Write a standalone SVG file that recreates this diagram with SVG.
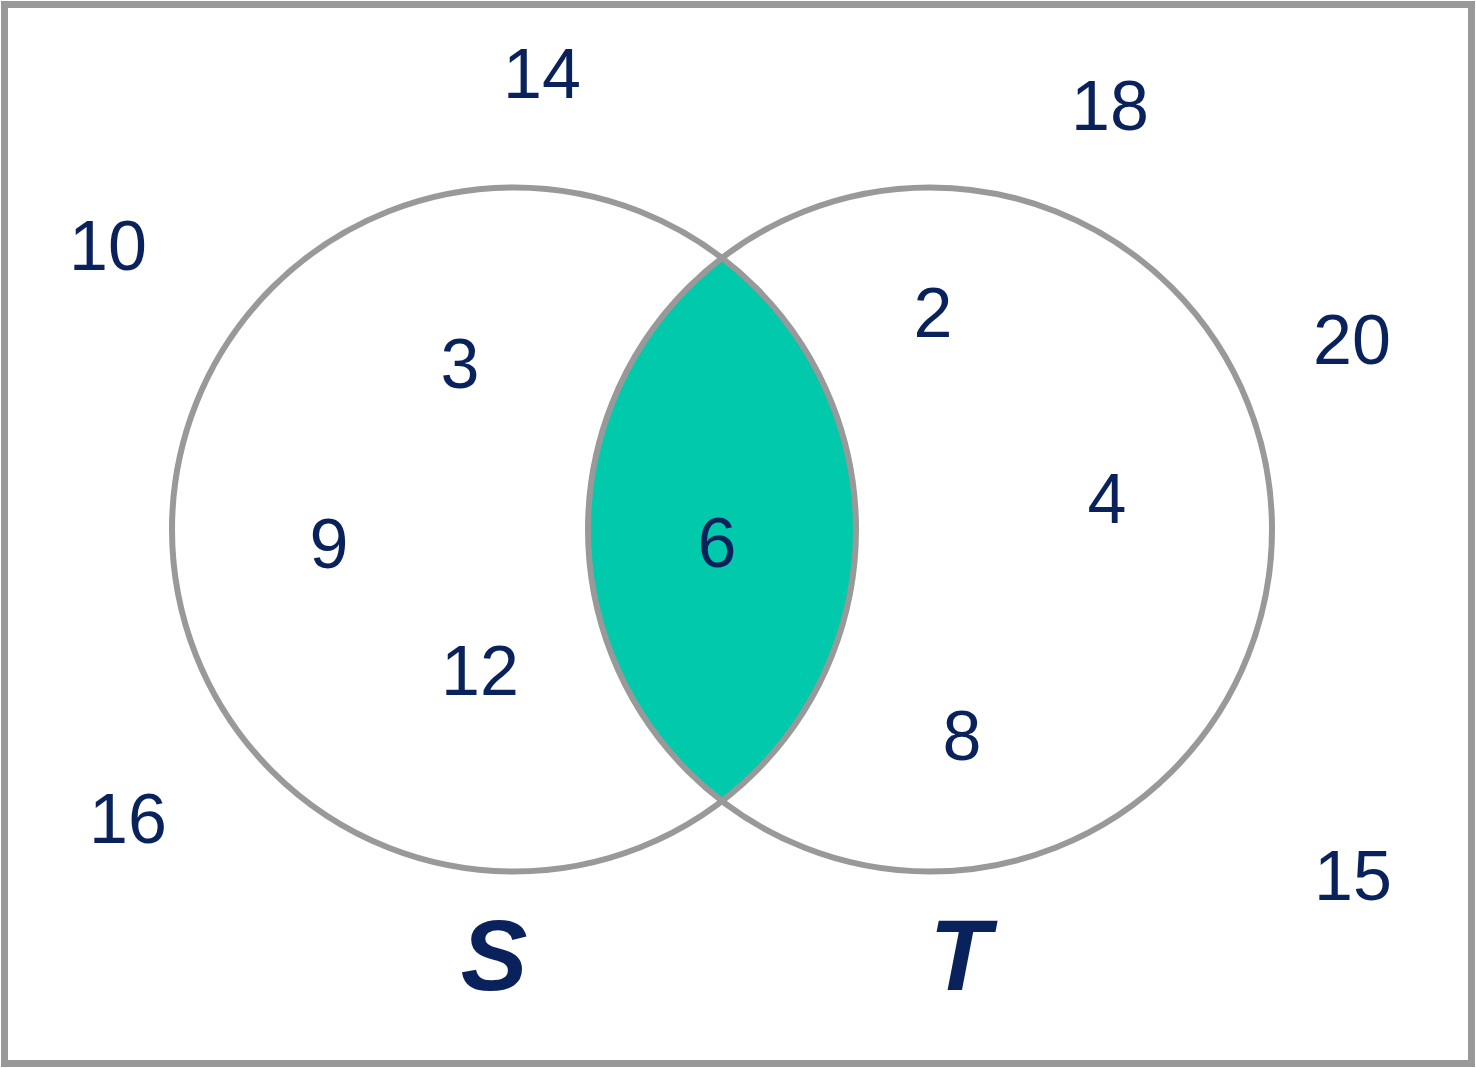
<svg xmlns="http://www.w3.org/2000/svg" width="1476" height="1068" viewBox="0 0 1476 1068">
<style>
.n{font-family:"Liberation Sans",Arial,sans-serif;font-size:70px;fill:#0a225c;text-anchor:middle}
.lbl{font-family:"Liberation Sans",Arial,sans-serif;font-size:100px;font-weight:bold;font-style:italic;fill:#0a225c;text-anchor:middle}
.c{fill:none;stroke:#999999;stroke-width:6}
</style>
<rect x="0" y="0" width="1476" height="1068" fill="#ffffff"/>
<rect x="4.5" y="4.5" width="1467" height="1059" fill="none" stroke="#999999" stroke-width="7"/>
<g id="intersection">
<path d="M722,258 A342,342 0 0 1 722,801 A342,342 0 0 1 722,258 Z" fill="#00c9ac"/>
</g>
<g id="connectors">
<circle id="circleS" class="c" cx="514" cy="529.5" r="342"/>
<circle id="circleT" class="c" cx="930" cy="529.5" r="342"/>
</g>
<g id="labels">
<text class="n" x="542" y="98">14</text>
<text class="n" x="1110" y="130">18</text>
<text class="n" x="108" y="270">10</text>
<text class="n" x="1352" y="364">20</text>
<text class="n" x="460" y="388">3</text>
<text class="n" x="933" y="337">2</text>
<text class="n" x="329" y="568">9</text>
<text class="n" x="717" y="567">6</text>
<text class="n" x="1107" y="523">4</text>
<text class="n" x="480" y="695">12</text>
<text class="n" x="962" y="760">8</text>
<text class="n" x="128" y="843">16</text>
<text class="n" x="1353" y="900">15</text>
<text class="lbl" x="494" y="990">S</text>
<text class="lbl" x="960" y="990">T</text>
</g>
</svg>
